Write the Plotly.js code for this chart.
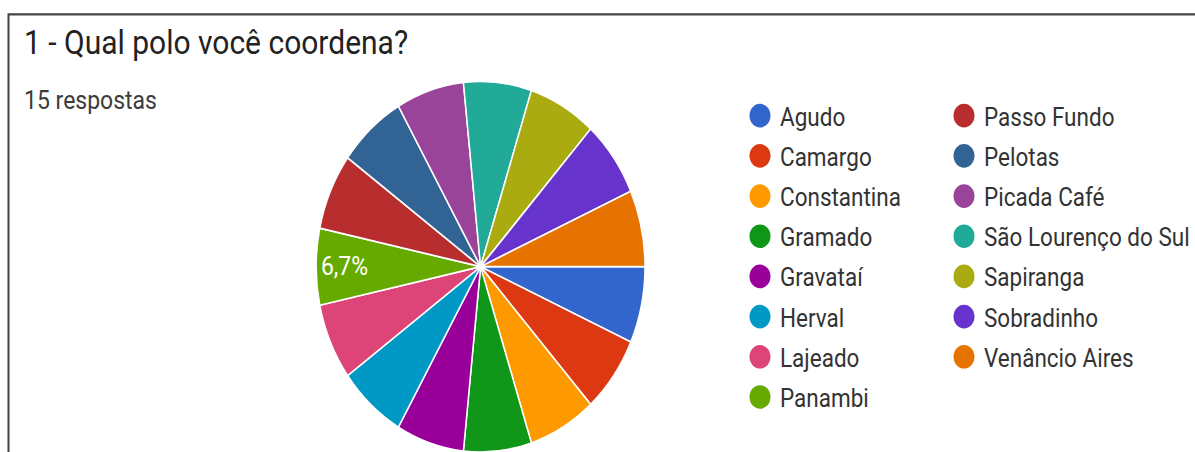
<!DOCTYPE html>
<html>
<head>
<meta charset="utf-8">
<script src="https://cdn.plot.ly/plotly-3.0.1.min.js"></script>
<style>
  html, body { margin: 0; padding: 0; background: #ffffff; overflow: hidden; }
  #wrap { width: 1195px; height: 452px; overflow: hidden; }
  #chart { width: 1195px; height: 401px; transform: scale(1, 1.1272); transform-origin: 0 0; }
</style>
</head>
<body>
<div id="wrap"><div id="chart"></div></div>
<script>
// ---- data ----
const titleText = "1 - Qual polo você coordena?";
const subtitleText = "15 respostas";
const polos = ["Agudo", "Camargo", "Constantina", "Gramado", "Gravataí", "Herval", "Lajeado", "Panambi",
               "Passo Fundo", "Pelotas", "Picada Café", "São Lourenço do Sul", "Sapiranga", "Sobradinho", "Venâncio Aires"];
const respostas = [1, 1, 1, 1, 1, 1, 1, 1, 1, 1, 1, 1, 1, 1, 1];
const cores = ["#3366cc", "#dc3912", "#ff9900", "#109618", "#990099", "#0099c6", "#dd4477", "#66aa00",
               "#b82e2e", "#316395", "#994499", "#22aa99", "#aaaa11", "#6633cc", "#e67300"];
const rotulado = "Panambi"; // only slice whose percentage is shown

const FONT = "Roboto, 'Noto Sans', Arial, sans-serif";
const W = 1195, H = 401;

const pie = {
  type: "pie",
  labels: polos,
  values: respostas,
  sort: false,
  direction: "clockwise",
  rotation: 90,
  marker: { colors: cores, line: { color: "#ffffff", width: 1.5 } },
  texttemplate: polos.map(p => p === rotulado ? "%{percent:.1%}" : ""),
  textposition: "inside",
  insidetextorientation: "horizontal",
  insidetextfont: { family: FONT, size: 23, color: "#ffffff" },
  showlegend: false,
  hoverinfo: "label+percent",
  domain: { x: [(481 - 165) / W, (481 + 165) / W], y: [0, 0.82] }
};

const legendTraces = polos.map((p, i) => ({
  type: "scatter",
  mode: "markers",
  x: [null], y: [null],
  name: p,
  legend: i < 8 ? "legend" : "legend2",
  legendgroup: "g" + i,
  marker: { color: cores[i], size: 16, symbol: "circle", line: { color: cores[i], width: 5 } },
  hoverinfo: "skip"
}));

const legendStyle = {
  font: { family: FONT, size: 22.5, color: "#333333" },
  bgcolor: "rgba(0,0,0,0)",
  yanchor: "top",
  xanchor: "left",
  tracegroupgap: 3.4,
  itemclick: false,
  itemdoubleclick: false
};

const layout = {
  width: W, height: H,
  margin: { l: 0, r: 0, t: 0, b: 0, pad: 0 },
  paper_bgcolor: "#ffffff",
  plot_bgcolor: "#ffffff",
  separators: ",.",
  showlegend: true,
  title: {
    text: titleText,
    font: { family: FONT, size: 30, color: "#222222" },
    xref: "container", yref: "container",
    x: 24 / W, xanchor: "left",
    y: 1 - 37 / H, yanchor: "middle"
  },
  xaxis: { visible: false, fixedrange: true },
  yaxis: { visible: false, fixedrange: true },
  legend: Object.assign({}, legendStyle, { x: (760 - 20) / W, y: 1 - 81.5 / H }),
  legend2: Object.assign({}, legendStyle, { x: (965 - 20) / W, y: 1 - 81.5 / H }),
  annotations: [{
    text: subtitleText,
    xref: "paper", yref: "paper",
    x: 22 / W, xanchor: "left",
    y: 1 - 89 / H, yanchor: "middle",
    showarrow: false,
    font: { family: FONT, size: 23, color: "#3c3c3c" }
  }],
  shapes: [{
    type: "rect", xref: "paper", yref: "paper",
    x0: 8.5 / W, x1: 1.05, y0: -0.1, y1: 1 - 12.7 / H,
    line: { color: "#444444", width: 2 }, fillcolor: "rgba(0,0,0,0)", layer: "below"
  }]
};

Plotly.newPlot("chart", [pie].concat(legendTraces), layout, { displayModeBar: false, staticPlot: false });
</script>
</body>
</html>
